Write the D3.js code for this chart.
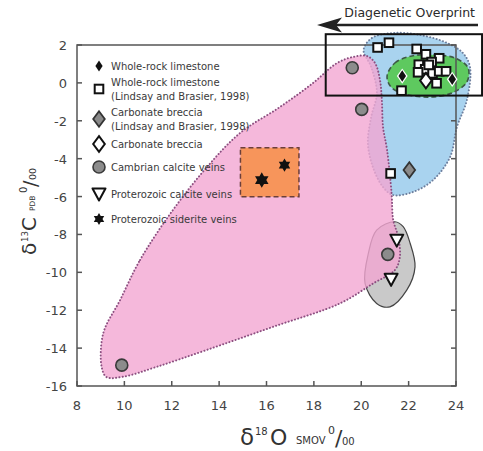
<!DOCTYPE html>
<html>
<head>
<meta charset="utf-8">
<script src="https://cdn.jsdelivr.net/npm/d3@7"></script>
<style>
	body { margin: 0; background: #fff; }
	svg { display: block; font-family: "DejaVu Sans", Verdana, sans-serif; }
	.tick-label { font-size: 13px; fill: #444; }
	.legend-label { font-size: 10px; fill: #3a3a3a; }
</style>
</head>
<body>
<svg id="chart" width="483" height="451"></svg>
<script>
( function() {

	"use strict";

	//axes
	var xTicks = [ 8, 10, 12, 14, 16, 18, 20, 22, 24 ],
		yTicks = [ 2, 0, -2, -4, -6, -8, -10, -12, -14, -16 ];

	//samples, [ d18O, d13C ]
	var wholeRock = [ [ 21.73, 0.36 ], [ 23.84, 0.19 ] ];
	var wholeRockLB = [
		[ 20.69, 1.87 ], [ 21.17, 2.12 ], [ 22.34, 1.79 ], [ 22.73, 1.51 ],
		[ 23.29, 1.30 ], [ 22.97, 1.10 ], [ 22.43, 0.96 ], [ 22.70, 0.72 ],
		[ 22.40, 0.56 ], [ 23.01, 0.50 ], [ 23.29, 0.61 ], [ 23.58, 0.61 ],
		[ 22.85, 0.95 ], [ 23.18, -0.02 ], [ 21.70, -0.41 ], [ 21.24, -4.78 ]
	];
	var brecciaLB = [ [ 22.03, -4.60 ] ];
	var breccia = [ [ 22.73, 0.12 ] ];
	var cambrianVeins = [ [ 19.62, 0.80 ], [ 20.02, -1.40 ], [ 21.12, -9.05 ], [ 9.89, -14.90 ] ];
	var protCalcite = [ [ 21.50, -8.30 ], [ 21.26, -10.37 ] ];
	var protSiderite = [ [ 15.80, -5.13, 1.3 ], [ 16.76, -4.34, 1.1 ] ];

	//field outlines, same units
	var pinkField = [
		[ 9.82, -11.46 ], [ 10.66, -9.35 ], [ 12.05, -6.71 ], [ 13.49, -4.44 ], [ 14.88, -2.65 ],
		[ 16.57, -1.27 ], [ 17.96, -0.01 ], [ 18.98, 1.05 ], [ 19.65, 1.37 ], [ 20.24, 1.42 ],
		[ 20.58, 1.05 ], [ 20.79, 0.15 ], [ 20.87, -0.90 ], [ 20.92, -2.33 ], [ 21.09, -3.54 ],
		[ 21.28, -5.81 ], [ 21.35, -7.24 ], [ 21.56, -8.12 ], [ 21.63, -9.18 ], [ 21.42, -9.88 ],
		[ 20.51, -10.58 ], [ 19.10, -11.64 ], [ 16.29, -12.87 ], [ 13.47, -14.10 ], [ 11.36, -14.99 ],
		[ 9.95, -15.51 ], [ 9.25, -15.53 ], [ 9.04, -14.99 ], [ 9.11, -13.21 ]
	];
	var blueField = [
		[ 20.10, 1.74 ], [ 20.45, 2.37 ], [ 21.34, 2.63 ], [ 22.48, 2.53 ], [ 23.62, 2.11 ],
		[ 24.29, 1.58 ], [ 24.59, 0.84 ], [ 24.46, -0.90 ], [ 24.04, -2.33 ], [ 23.75, -3.91 ],
		[ 23.03, -5.13 ], [ 22.18, -5.76 ], [ 21.34, -5.92 ], [ 20.92, -5.50 ], [ 20.49, -4.44 ],
		[ 20.28, -3.17 ], [ 20.42, -1.80 ], [ 20.66, -0.53 ], [ 20.42, 0.84 ]
	];
	var greenField = [
		[ 21.09, 0.36 ], [ 21.42, 1.05 ], [ 22.14, 1.42 ], [ 23.11, 1.47 ], [ 23.96, 1.31 ],
		[ 24.51, 0.79 ], [ 24.46, 0.05 ], [ 23.83, -0.53 ], [ 22.90, -0.75 ], [ 21.85, -0.59 ],
		[ 21.26, -0.22 ]
	];
	var grayField = [
		[ 21.42, -7.33 ], [ 20.65, -7.77 ], [ 20.30, -9.00 ], [ 20.16, -10.58 ], [ 20.65, -11.64 ],
		[ 21.21, -11.82 ], [ 21.92, -10.94 ], [ 22.27, -9.71 ], [ 22.06, -8.45 ], [ 21.77, -7.59 ]
	];
	var sideriteBox = [ [ 14.9, -3.42 ], [ 17.37, -6.01 ] ];
	var overprintBox = [ [ 18.5, 2.57 ], [ 25.1, -0.67 ] ];

	var legendItems = [
		{ type: "diamondBlack", lines: [ "Whole-rock limestone" ] },
		{ type: "square", lines: [ "Whole-rock limestone", "(Lindsay and Brasier, 1998)" ] },
		{ type: "diamondGray", lines: [ "Carbonate breccia", "(Lindsay and Brasier, 1998)" ] },
		{ type: "diamondWhite", lines: [ "Carbonate breccia" ] },
		{ type: "circle", lines: [ "Cambrian calcite veins" ] },
		{ type: "triangle", lines: [ "Proterozoic calcite veins" ] },
		{ type: "star", lines: [ "Proterozoic siderite veins" ] }
	];

	var svg = d3.select( "#chart" ),
		x = d3.scaleLinear().domain( [ 8, 24 ] ).range( [ 77, 456 ] ),
		y = d3.scaleLinear().domain( [ -16, 2 ] ).range( [ 386, 45 ] ),
		axisColor = "#555",
		tickLen = 5;

	var field = d3.line()
		.x( function( d ) { return x( d[ 0 ] ); } )
		.y( function( d ) { return y( d[ 1 ] ); } )
		.curve( d3.curveCatmullRomClosed.alpha( 0.5 ) );

	//fields, back to front
	svg.append( "path" ).attr( "d", field( blueField ) )
		.attr( "fill", "#a9d3ef" ).attr( "stroke", "#6d7f9e" ).attr( "stroke-width", 2 )
		.attr( "stroke-dasharray", "0.1 3.2" ).attr( "stroke-linecap", "round" );
	svg.append( "path" ).attr( "d", field( grayField ) )
		.attr( "fill", "#c9c9c9" ).attr( "stroke", "#444" ).attr( "stroke-width", 1.2 );
	svg.append( "path" ).attr( "d", field( pinkField ) )
		.attr( "fill", "#f2a6d2" ).attr( "fill-opacity", 0.8 ).attr( "stroke", "#8c4f80" ).attr( "stroke-width", 2 )
		.attr( "stroke-dasharray", "0.1 3.2" ).attr( "stroke-linecap", "round" );
	svg.append( "path" ).attr( "d", field( greenField ) )
		.attr( "fill", "#5ec95f" ).attr( "stroke", "#3d5a46" ).attr( "stroke-width", 1.6 )
		.attr( "stroke-dasharray", "5 3" );
	svg.append( "rect" )
		.attr( "x", x( sideriteBox[ 0 ][ 0 ] ) ).attr( "y", y( sideriteBox[ 0 ][ 1 ] ) )
		.attr( "width", x( sideriteBox[ 1 ][ 0 ] ) - x( sideriteBox[ 0 ][ 0 ] ) )
		.attr( "height", y( sideriteBox[ 1 ][ 1 ] ) - y( sideriteBox[ 0 ][ 1 ] ) )
		.attr( "fill", "#f7955b" ).attr( "stroke", "#6b3f3a" ).attr( "stroke-width", 1.5 )
		.attr( "stroke-dasharray", "5 3" );

	//frame and ticks
	var frame = svg.append( "g" ).attr( "stroke", axisColor ).attr( "stroke-width", 1.5 );
	frame.append( "rect" ).attr( "x", x( 8 ) ).attr( "y", y( 2 ) )
		.attr( "width", x( 24 ) - x( 8 ) ).attr( "height", y( -16 ) - y( 2 ) ).attr( "fill", "none" );
	frame.selectAll( ".xt" ).data( xTicks ).enter().append( "line" )
		.attr( "x1", x ).attr( "x2", x ).attr( "y1", y( -16 ) ).attr( "y2", y( -16 ) - tickLen );
	frame.selectAll( ".yl" ).data( yTicks ).enter().append( "line" )
		.attr( "x1", x( 8 ) ).attr( "x2", x( 8 ) + tickLen ).attr( "y1", y ).attr( "y2", y );
	frame.selectAll( ".yr" ).data( yTicks ).enter().append( "line" )
		.attr( "x1", x( 24 ) ).attr( "x2", x( 24 ) - tickLen ).attr( "y1", y ).attr( "y2", y );

	svg.selectAll( ".xlab" ).data( xTicks ).enter().append( "text" )
		.attr( "class", "tick-label" ).attr( "text-anchor", "middle" )
		.attr( "x", x ).attr( "y", y( -16 ) + 24 ).text( function( d ) { return d; } );
	svg.selectAll( ".ylab" ).data( yTicks ).enter().append( "text" )
		.attr( "class", "tick-label" ).attr( "text-anchor", "end" )
		.attr( "x", x( 8 ) - 10 ).attr( "y", function( d ) { return y( d ) + 5; } ).text( function( d ) { return d; } );

	//marker shapes
	var star6 = function( r ) {
		var pts = [], i, a, rr;
		for( i = 0; i < 12; i++ ) {
			a = Math.PI / 6 * i - Math.PI / 2;
			rr = ( i % 2 === 0 )? r: r * 0.58;
			pts.push( [ rr * Math.cos( a ), rr * Math.sin( a ) ] );
		}
		return "M" + pts.join( "L" ) + "Z";
	};
	var diamond = function( w, h ) {
		return "M0," + ( -h ) + "L" + w + ",0L0," + h + "L" + ( -w ) + ",0Z";
	};
	var drawMarker = function( g, type, scale ) {
		scale = scale || 1;
		if( type === "diamondBlack" ) {
			g.append( "path" ).attr( "d", diamond( 5.4 * scale, 7.6 * scale ) ).attr( "fill", "#fff" );
			g.append( "path" ).attr( "d", diamond( 3.8 * scale, 5.8 * scale ) ).attr( "fill", "#111" );
		} else if( type === "square" ) {
			g.append( "rect" ).attr( "x", -4.3 ).attr( "y", -4.3 ).attr( "width", 8.6 ).attr( "height", 8.6 )
				.attr( "fill", "#fff" ).attr( "stroke", "#111" ).attr( "stroke-width", 2 );
		} else if( type === "diamondGray" ) {
			g.append( "path" ).attr( "d", diamond( 5.8, 7.8 ) )
				.attr( "fill", "#8a8a8a" ).attr( "stroke", "#333" ).attr( "stroke-width", 1.8 );
		} else if( type === "diamondWhite" ) {
			g.append( "path" ).attr( "d", diamond( 5.8, 7.8 ) )
				.attr( "fill", "#fff" ).attr( "stroke", "#111" ).attr( "stroke-width", 2 );
		} else if( type === "circle" ) {
			g.append( "circle" ).attr( "r", 6 )
				.attr( "fill", "#8c8c8c" ).attr( "stroke", "#3a3a3a" ).attr( "stroke-width", 1.6 );
		} else if( type === "triangle" ) {
			g.append( "path" ).attr( "d", "M-6.5,-5.5L6.5,-5.5L0,6.5Z" )
				.attr( "fill", "#fff" ).attr( "stroke", "#111" ).attr( "stroke-width", 2 ).attr( "stroke-linejoin", "round" );
		} else if( type === "star" ) {
			g.append( "path" ).attr( "d", star6( 6 * scale ) ).attr( "fill", "#111" );
		}
	};

	var plotSeries = function( data, type ) {
		data.forEach( function( d ) {
			var g = svg.append( "g" ).attr( "transform", "translate(" + x( d[ 0 ] ) + "," + y( d[ 1 ] ) + ")" );
			drawMarker( g, type, d[ 2 ] );
		} );
	};
	plotSeries( cambrianVeins, "circle" );
	plotSeries( protCalcite, "triangle" );
	plotSeries( protSiderite, "star" );
	plotSeries( brecciaLB, "diamondGray" );
	plotSeries( wholeRockLB, "square" );
	plotSeries( breccia, "diamondWhite" );
	plotSeries( wholeRock, "diamondBlack", 1.15 );

	//legend
	var legendY = [ 66, 89, 119, 144, 167, 194, 219 ];
	legendItems.forEach( function( item, i ) {
		var g = svg.append( "g" ).attr( "transform", "translate(99," + legendY[ i ] + ")" );
		drawMarker( g, item.type, item.type === "diamondBlack"? 0.95: 1 );
		var top = ( item.lines.length > 1 )? -7: 0;
		item.lines.forEach( function( line, j ) {
			svg.append( "text" ).attr( "class", "legend-label" )
				.attr( "x", 111 ).attr( "y", legendY[ i ] + top + j * 14.5 + 3.5 ).text( line );
		} );
	} );

	//diagenetic overprint
	svg.append( "rect" )
		.attr( "x", x( overprintBox[ 0 ][ 0 ] ) ).attr( "y", y( overprintBox[ 0 ][ 1 ] ) )
		.attr( "width", x( overprintBox[ 1 ][ 0 ] ) - x( overprintBox[ 0 ][ 0 ] ) )
		.attr( "height", y( overprintBox[ 1 ][ 1 ] ) - y( overprintBox[ 0 ][ 1 ] ) )
		.attr( "fill", "none" ).attr( "stroke", "#111" ).attr( "stroke-width", 2 );
	svg.append( "line" ).attr( "x1", 335 ).attr( "x2", 478 ).attr( "y1", 25 ).attr( "y2", 25 )
		.attr( "stroke", "#222" ).attr( "stroke-width", 2.6 );
	svg.append( "path" ).attr( "d", "M317,25L342,17.5L336,25L342,32.5Z" ).attr( "fill", "#222" );
	svg.append( "text" ).attr( "x", 475 ).attr( "y", 17 ).attr( "text-anchor", "end" )
		.attr( "font-size", 12.5 ).attr( "fill", "#2a2a2a" ).text( "Diagenetic Overprint" );

	//axis titles, pieces laid out along the axis
	var xTitle = [
		{ t: "\u03b4", u: 0, v: 0, s: 23 },
		{ t: "18", u: 15, v: -10, s: 10 },
		{ t: "O", u: 30, v: 0, s: 22 },
		{ t: "SMOV", u: 56, v: -1, s: 10 },
		{ t: "0", u: 88, v: -11, s: 11 },
		{ t: "/", u: 95, v: 1, s: 22 },
		{ t: "00", u: 102, v: 0, s: 10 }
	];
	var yTitle = [
		{ t: "\u03b4", u: 1, v: 0, s: 20 },
		{ t: "13", u: 14, v: -8, s: 8.5 },
		{ t: "C", u: 25, v: 0, s: 20 },
		{ t: "PDB", u: 45, v: -1, s: 7.5 },
		{ t: "0", u: 63, v: -9, s: 10 },
		{ t: "/", u: 69, v: 1, s: 19 },
		{ t: "00", u: 76, v: 0, s: 9.5 }
	];
	var drawTitle = function( transform, parts ) {
		var g = svg.append( "g" ).attr( "transform", transform ).attr( "fill", "#333" );
		parts.forEach( function( p ) {
			g.append( "text" ).attr( "x", p.u ).attr( "y", p.v ).attr( "font-size", p.s ).text( p.t );
		} );
	};
	drawTitle( "translate(240,445)", xTitle );
	drawTitle( "translate(36,256) rotate(-90)", yTitle );

})();
</script>
</body>
</html>
